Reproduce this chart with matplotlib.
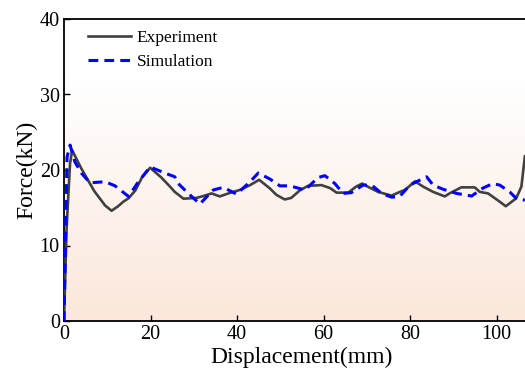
import numpy as np
import matplotlib
matplotlib.use("Agg")
import matplotlib.pyplot as plt
from matplotlib.colors import LinearSegmentedColormap

plt.rcParams['font.family'] = ['Liberation Serif', 'DejaVu Serif']

# Experiment curve (displacement mm, force kN)
exp_x = [0, 0.6, 1.4, 1.9, 4.0, 7.0, 9.5, 11.0, 12.5, 13.7, 14.9, 16.5, 18.0, 19.9,
         22.5, 24.5, 25.6, 27.6, 30.6, 32.5, 34.1, 36.0, 38.5, 40.6, 43.0, 45.1,
         47.5, 49.1, 51.0, 52.5, 54.5, 56.4, 59.5, 61.5, 63.0, 65.7, 67.5, 68.9,
         70.5, 72.6, 75.7, 77.6, 78.8, 81.1, 83.0, 85.3, 88.0, 89.1, 91.8, 94.9,
         96.1, 98.0, 100.7, 102.1, 104.5, 105.7, 106.5]
exp_y = [0, 12.3, 20.9, 22.6, 20.2, 17.2, 15.3, 14.6, 15.2, 15.8, 16.25, 17.3, 19.0, 20.3,
         19.0, 17.8, 17.1, 16.2, 16.3, 16.6, 16.9, 16.5, 17.0, 17.35, 18.0, 18.7,
         17.6, 16.7, 16.1, 16.3, 17.3, 17.9, 18.0, 17.6, 17.0, 17.0, 17.8, 18.2,
         17.7, 17.1, 16.6, 17.1, 17.35, 18.5, 17.8, 17.1, 16.5, 16.9, 17.7, 17.7,
         17.1, 16.9, 15.8, 15.2, 16.25, 17.8, 21.8]

# Simulation curve
sim_x = [0, 0.7, 1.4, 2.5, 4.0, 6.0, 9.5, 11.8, 14.9, 17.2, 19.9, 23.3, 25.6, 26.4,
         29.1, 31.4, 34.5, 36.8, 39.9, 43.0, 44.9, 47.6, 49.9, 52.2, 55.7, 58.7,
         60.3, 62.6, 64.5, 66.4, 69.1, 71.1, 73.4, 75.7, 77.6, 79.9, 83.8, 85.3,
         87.6, 90.7, 94.2, 96.8, 99.1, 100.7, 103.0, 104.5, 106.5]
sim_y = [0, 21.7, 23.3, 21.1, 19.6, 18.3, 18.45, 17.9, 16.5, 18.45, 20.4, 19.6, 19.1, 18.2,
         16.7, 15.5, 17.35, 17.7, 16.8, 18.45, 19.6, 18.8, 17.9, 17.9, 17.35, 19.0,
         19.25, 18.2, 16.9, 17.0, 18.0, 18.0, 16.9, 16.4, 16.5, 18.0, 19.1, 18.0,
         17.45, 16.9, 16.55, 17.6, 18.2, 18.0, 17.1, 16.25, 16.0]

x_ticks = [0, 20, 40, 60, 80, 100]
y_ticks = [0, 10, 20, 30, 40]

fig = plt.figure(figsize=(5.25, 3.78), dpi=100)
ax = fig.add_axes([64 / 525, 57 / 378, 476 / 525, 302 / 378])

# background gradient, white at top to peach at bottom
cmap = LinearSegmentedColormap.from_list('bg', ['#fbe7db', '#fdf3ed', '#ffffff'])
grad = np.linspace(0, 1, 256).reshape(-1, 1)
ax.imshow(grad, cmap=cmap, aspect='auto', origin='lower',
          extent=[0, 110, 0, 32], zorder=0)

ax.plot(exp_x, exp_y, color='#404040', lw=1.9, label='Experiment', zorder=3)
ax.plot(sim_x, sim_y, color='#0000ff', lw=2.2, ls=(0, (3.2, 2.0)), label='Simulation', zorder=4)

ax.set_xlim(0, 110)
ax.set_ylim(0, 40)
ax.set_xticks(x_ticks)
ax.set_yticks(y_ticks)
ax.tick_params(direction='in', length=4, width=1, labelsize=14.5, pad=3)
ax.spines['right'].set_visible(False)
for s in ['left', 'bottom', 'top']:
    ax.spines[s].set_linewidth(1.3)

ax.set_xlabel('Displacement(mm)', fontsize=17, labelpad=2)
ax.set_ylabel('Force(kN)', fontsize=17, labelpad=2)

ax.legend(loc='upper left', bbox_to_anchor=(0.025, 1.005), frameon=False,
          fontsize=12.5, handlelength=2.5, handletextpad=0.3, labelspacing=0.45,
          borderaxespad=0.3)

fig.savefig('out.png', dpi=100)
